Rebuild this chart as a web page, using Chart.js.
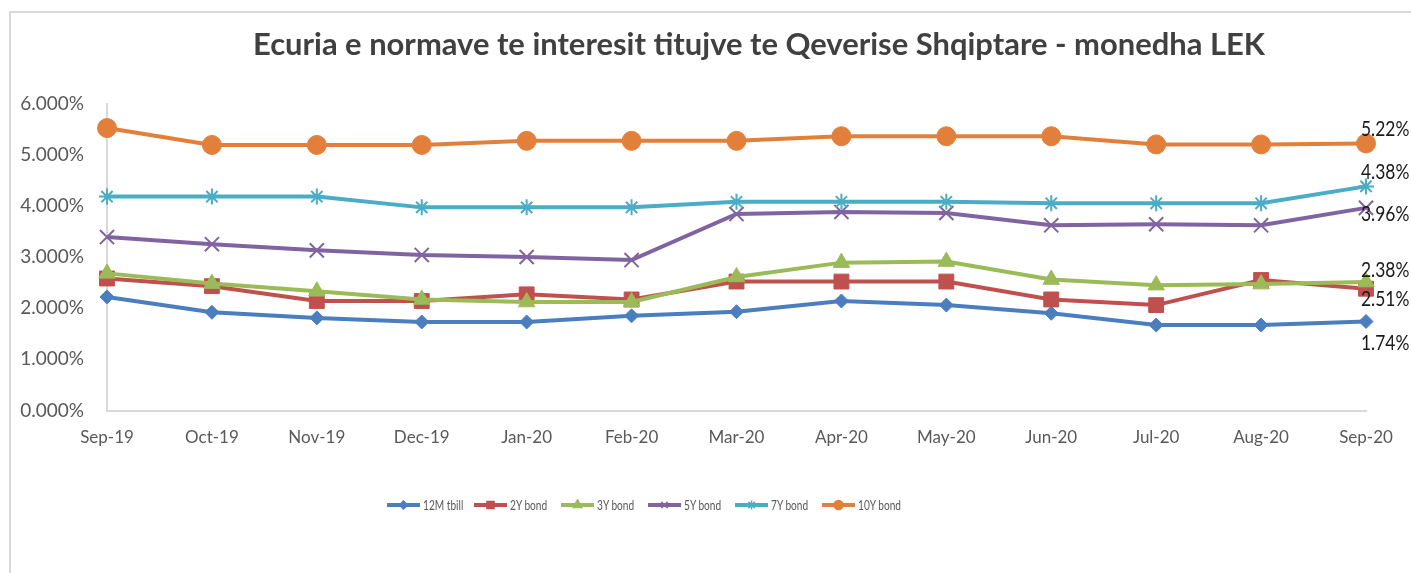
<!DOCTYPE html>
<html><head><meta charset="utf-8">
<script src="https://cdn.jsdelivr.net/npm/chart.js@4.4.1/dist/chart.umd.min.js"></script>
<style>
html,body{margin:0;padding:0;background:#fff;width:1411px;height:573px;overflow:hidden;}
#wrap{position:relative;width:1411px;height:573px;}
#frame{position:absolute;left:9px;top:11px;width:1500px;height:700px;border-top:2px solid #D9D9D9;border-left:2px solid #D9D9D9;}
#c{position:absolute;left:0;top:0;}
#title{position:absolute;top:25px;left:253px;white-space:nowrap;font-family:Lato,'Open Sans',sans-serif;font-weight:700;font-size:30px;line-height:36px;color:#404040;transform-origin:0 0;}
#legend{position:absolute;left:387px;top:498px;display:flex;font-family:Lato,'Open Sans',sans-serif;font-size:13px;line-height:14px;color:#595959;}
.item{display:flex;align-items:center;width:87px;}
.item canvas{margin-right:3px;}
.item span{display:inline-block;transform:scaleX(0.78);transform-origin:0 50%;white-space:nowrap;}
</style>
</head><body>
<div id="wrap">
<div id="frame"></div>
<canvas id="c" width="1411" height="573"></canvas>
<div id="title">Ecuria e normave te interesit titujve te Qeverise Shqiptare - monedha LEK</div>
<div id="legend"></div>
</div>
<script>
// ---- data ----
const categories = ['Sep-19','Oct-19','Nov-19','Dec-19','Jan-20','Feb-20','Mar-20','Apr-20','May-20','Jun-20','Jul-20','Aug-20','Sep-20'];
const seriesNames = ['12M tbill','2Y bond','3Y bond','5Y bond','7Y bond','10Y bond'];
const tbill12M = [2.22, 1.92, 1.81, 1.73, 1.73, 1.85, 1.93, 2.14, 2.06, 1.90, 1.67, 1.67, 1.74];
const bond2Y   = [2.58, 2.43, 2.14, 2.14, 2.27, 2.17, 2.52, 2.52, 2.52, 2.17, 2.06, 2.55, 2.38];
const bond3Y   = [2.68, 2.48, 2.33, 2.17, 2.12, 2.12, 2.61, 2.89, 2.91, 2.56, 2.45, 2.47, 2.51];
const bond5Y   = [3.39, 3.25, 3.13, 3.04, 3.00, 2.94, 3.84, 3.88, 3.86, 3.62, 3.64, 3.62, 3.96];
const bond7Y   = [4.18, 4.18, 4.18, 3.97, 3.97, 3.97, 4.08, 4.08, 4.08, 4.05, 4.05, 4.05, 4.38];
const bond10Y  = [5.52, 5.19, 5.19, 5.19, 5.27, 5.27, 5.27, 5.36, 5.36, 5.36, 5.20, 5.20, 5.22];
const yTicks = [0, 1, 2, 3, 4, 5, 6];

// ---- styles ----
const seriesData = [tbill12M, bond2Y, bond3Y, bond5Y, bond7Y, bond10Y];
const colors = ['#4A7EBF', '#C0504D', '#9BBB59', '#8064A2', '#4BACC6', '#E2803B'];
const markers = ['rectRot', 'rect', 'triangle', 'crossRot', 'star', 'circle'];
const markerRadius = [7, 10.5, 9.5, 10, 8, 9.5];
const markerBorder = [1, 1, 1, 2, 2, 1];
const labelDy = [22, -18, 17, 6, -14, -14];
const FONT = "Lato, 'Open Sans', sans-serif";

const datasets = seriesNames.map((name, i) => ({
  label: name,
  data: seriesData[i],
  borderColor: colors[i],
  backgroundColor: colors[i],
  borderWidth: 4,
  pointStyle: markers[i],
  pointRadius: markerRadius[i],
  pointBorderWidth: markerBorder[i],
  pointBackgroundColor: colors[i],
  pointBorderColor: colors[i],
  tension: 0,
  order: seriesNames.length - 1 - i
}));

const endLabels = {
  id: 'endLabels',
  afterDatasetsDraw(chart) {
    const ctx = chart.ctx;
    chart.data.datasets.forEach((ds, i) => {
      const meta = chart.getDatasetMeta(i);
      const last = meta.data.length - 1;
      const pt = meta.data[last];
      const v = ds.data[last];
      ctx.save();
      ctx.font = "21px " + FONT;
      ctx.fillStyle = '#1a1a1a';
      ctx.textAlign = 'left';
      ctx.textBaseline = 'middle';
      ctx.translate(pt.x - 5, pt.y + labelDy[i]);
      ctx.scale(0.83, 1);
      ctx.fillText(v.toFixed(2) + '%', 0, 0);
      ctx.restore();
    });
  }
};

new Chart(document.getElementById('c'), {
  type: 'line',
  data: { labels: categories, datasets },
  options: {
    responsive: false,
    animation: false,
    devicePixelRatio: 1,
    layout: { padding: { top: 103.5, right: 45, left: 0, bottom: 0 } },
    plugins: { legend: { display: false }, title: { display: false }, tooltip: { enabled: false } },
    scales: {
      x: {
        type: 'category',
        offset: false,
        grid: { display: false, drawTicks: false },
        border: { display: true, color: '#D9D9D9', width: 2 },
        ticks: { color: '#595959', font: { family: FONT, size: 17 }, padding: 17, maxRotation: 0, autoSkip: false },
        afterFit(s) { s.height = 573 - 410.5; }
      },
      y: {
        min: yTicks[0], max: yTicks[yTicks.length - 1],
        afterBuildTicks(s) { s.ticks = yTicks.map(v => ({ value: v })); },
        grid: { display: false, drawTicks: false },
        border: { display: true, color: '#D9D9D9', width: 2 },
        ticks: { color: '#595959', font: { family: FONT, size: 19 }, padding: 23, callback: v => Number(v).toFixed(3) + '%' },
        afterFit(s) { s.width = 107; }
      }
    }
  },
  plugins: [endLabels]
});

// title fit
const t = document.getElementById('title');
const tw = t.getBoundingClientRect().width;
t.style.transform = 'scaleX(' + (1012 / tw) + ')';

// legend
const lg = document.getElementById('legend');
const drawPoint = (Chart.helpers && Chart.helpers.drawPoint) ? Chart.helpers.drawPoint : null;
const legendR = [4, 5, 5, 4.5, 4.5, 4.5];
seriesNames.forEach((name, i) => {
  const item = document.createElement('div');
  item.className = 'item';
  const cv = document.createElement('canvas');
  cv.width = 33; cv.height = 12;
  const cx = cv.getContext('2d');
  cx.strokeStyle = colors[i]; cx.fillStyle = colors[i];
  cx.lineWidth = 4;
  cx.beginPath(); cx.moveTo(0, 6); cx.lineTo(33, 6); cx.stroke();
  if (drawPoint) {
    cx.lineWidth = 1.5;
    drawPoint(cx, { pointStyle: markers[i], radius: legendR[i], borderWidth: markerBorder[i], rotation: 0 }, 16.5, 6);
  }
  item.appendChild(cv);
  const sp = document.createElement('span');
  sp.textContent = name;
  item.appendChild(sp);
  lg.appendChild(item);
});
</script>
</body></html>
